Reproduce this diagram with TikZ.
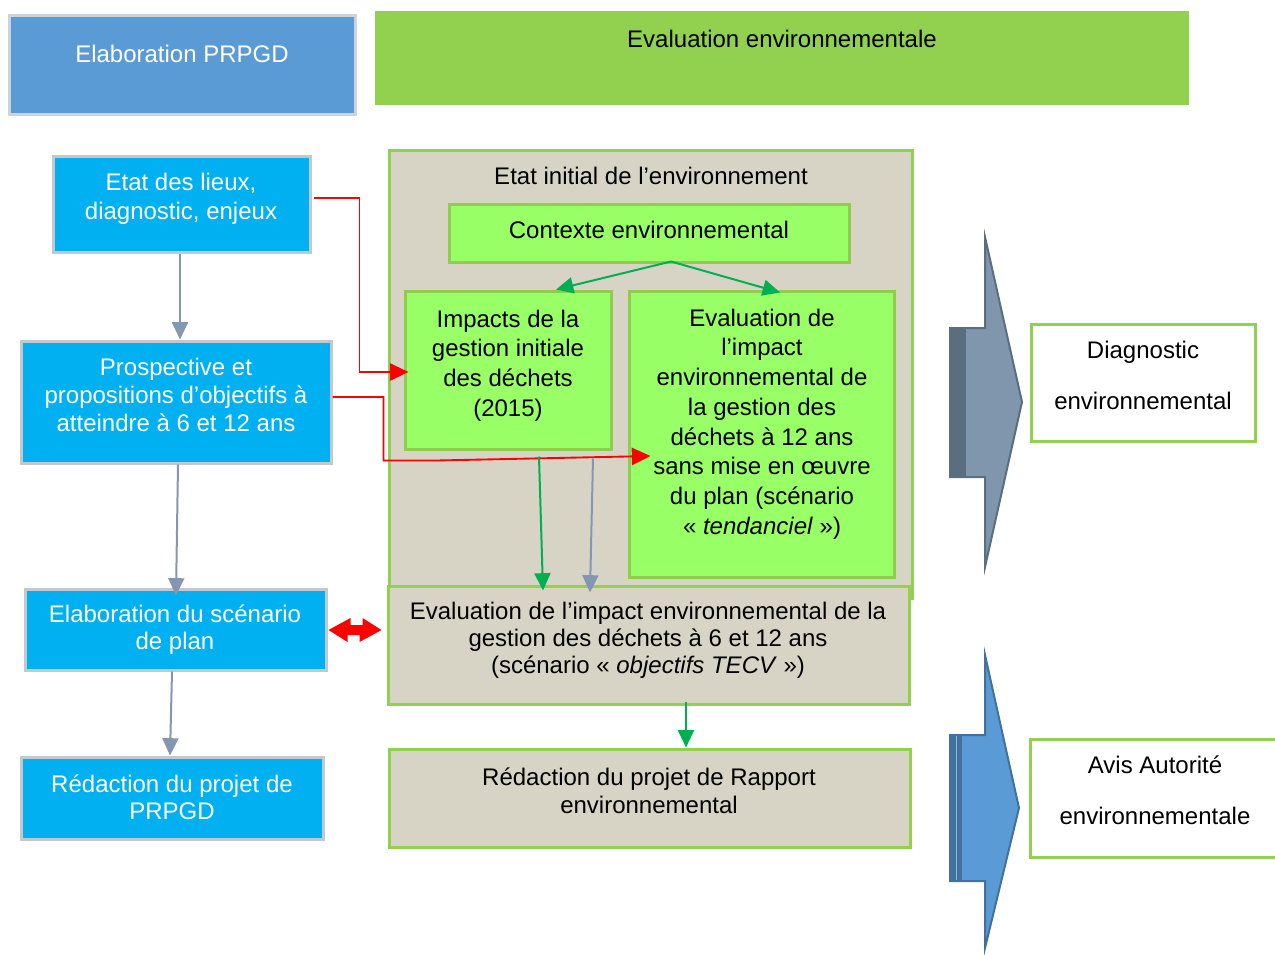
\documentclass[tikz,border=0pt]{standalone}
\usepackage{fontspec}
\setmainfont{Liberation Sans}
\usetikzlibrary{fit,calc,arrows.meta}
\definecolor{hdrblue}{HTML}{5B9BD5}
\definecolor{hdrborder}{HTML}{CDD3DA}
\definecolor{cyanbox}{HTML}{00B0F0}
\definecolor{boxgray}{HTML}{C3C8CE}
\definecolor{hdrgreen}{HTML}{92D050}
\definecolor{sand}{HTML}{D8D4C5}
\definecolor{lgreen}{HTML}{99FF66}
\definecolor{bgreen}{HTML}{92D050}
\definecolor{lgborder}{HTML}{8FCC50}
\definecolor{argreen}{HTML}{00B050}
\definecolor{argray}{HTML}{8497B0}
\definecolor{slate}{HTML}{8096AC}
\definecolor{slatedark}{HTML}{5A6E80}
\definecolor{bluedark}{HTML}{41719C}
\begin{document}
\begin{tikzpicture}[x=0.75pt,y=-0.75pt,
  every node/.style={font=\fontsize{18}{22}\selectfont},
  frame/.style={inner sep=0pt, line width=2.25pt},
  hdrframe/.style={frame, fill=hdrblue, draw=hdrborder},
  greenhdr/.style={frame, fill=hdrgreen, draw=hdrgreen},
  cyanframe/.style={frame, fill=cyanbox, draw=boxgray},
  sandframe/.style={frame, fill=sand, draw=bgreen},
  lgframe/.style={frame, fill=lgreen, draw=lgborder},
  whiteframe/.style={frame, fill=white, draw=bgreen},
  wtxt/.style={text=white, align=center, inner sep=0pt},
  btxt/.style={text=black, align=center, inner sep=0pt},
  grayarr/.style={draw=argray, line width=1.5pt, -{Triangle[length=13pt,width=12pt]}},
  greenarr/.style={draw=argreen, line width=1.5pt, -{Triangle[length=13pt,width=12pt]}},
  redarr/.style={draw=red, line width=1.4pt, -{Triangle[length=14pt,width=13pt]}},
  slatearrow/.style={fill=slate, draw=slatedark, line width=1.5pt, line join=miter},
  bluearrow/.style={fill=hdrblue, draw=bluedark, line width=1.5pt, line join=miter}
]
\useasboundingbox (0,0) rectangle (1275,954);

% header boxes
\node[hdrframe, fit={(9,15) (355,114)}] (hdrL) {};
\node[wtxt] (hdrLT) at (182,54) {Elaboration PRPGD};
\node[greenhdr, fit={(376,12) (1187,103)}] (hdrR) {};
\node[btxt] (hdrRT) at (782,39) {Evaluation environnementale};

% left column
\node[cyanframe, fit={(53,156) (310,252)}] (etat) {};
\node[wtxt] (etatT) at (181,199) {Etat des lieux,\\diagnostic, enjeux};
\node[cyanframe, fit={(21,341) (331,463)}] (prosp) {};
\node[wtxt, font=\fontsize{18}{21}\selectfont] (prospT) at (176,395) {Prospective et\\propositions d’objectifs à\\atteindre à 6 et 12 ans};
\node[cyanframe, fit={(25,589) (326,670)}] (scen) {};
\node[wtxt, font=\fontsize{18}{20.25}\selectfont] (scenT) at (175,630) {Elaboration du scénario\\de plan};
\node[cyanframe, fit={(21,757) (323,839)}] (redacP) {};
\node[wtxt, font=\fontsize{18}{20.25}\selectfont] (redacPT) at (172,797.5) {Rédaction du projet de\\PRPGD};

% middle column
\node[sandframe, fit={(389,150) (912,598)}] (initial) {};
\node[btxt] (initialT) at (651,176) {Etat initial de l’environnement};
\node[lgframe, fit={(449,204) (849,262)}] (ctx) {};
\node[btxt] (ctxT) at (649,230) {Contexte environnemental};
\node[lgframe, fit={(405,291) (611,449)}] (impacts) {};
\node[btxt, font=\fontsize{18}{22.3}\selectfont] (impactsT) at (508,365.5) {Impacts de la\\gestion initiale\\des déchets\\(2015)};
\node[lgframe, fit={(629,291) (894,577)}] (eval) {};
\node[btxt, font=\fontsize{18}{22.3}\selectfont] (evalT) at (762,424) {Evaluation de\\l’impact\\environnemental de\\la gestion des\\déchets à 12 ans\\sans mise en œuvre\\du plan (scénario\\«~\textit{tendanciel}~»)};
\node[sandframe, fit={(388,586) (909,704)}] (evalplan) {};
\node[btxt, font=\fontsize{18}{20.25}\selectfont] (evalplanT) at (648,640.5) {Evaluation de l’impact environnemental de la\\gestion des déchets à 6 et 12 ans\\(scénario «~\textit{objectifs TECV}~»)};
\node[sandframe, fit={(389,749) (910,847)}] (redacR) {};
\node[btxt, font=\fontsize{18}{21}\selectfont] (redacRT) at (649,791) {Rédaction du projet de Rapport\\environnemental};

% right column
\node[whiteframe, fit={(1031,324) (1255,441)}] (diag) {};
\node[btxt, font=\fontsize{18}{38}\selectfont] (diagT) at (1143,375.5) {Diagnostic\\environnemental};
\node[whiteframe, fit={(1030,739) (1295,857)}] (avis) {};
\node[btxt, font=\fontsize{18}{38}\selectfont] (avisT) at (1155,790.5) {Avis Autorité\\environnementale};

% big block arrows
\draw[slatearrow] (950,328) -- (985,328) -- (985,237) -- (1022,402) -- (985,567) -- (985,477) -- (950,477) -- cycle;
\fill[slatedark] (950,328) rectangle (966,477);
\draw[bluearrow] (950,735) -- (985,735) -- (985,655) -- (1019,808) -- (985,948) -- (985,881) -- (950,881) -- cycle;
\fill[bluedark] (950,735) rectangle (962,881);
\draw[hdrblue!70!white, line width=0.6pt] (956,736) -- (956,880);

% left column arrows
\draw[grayarr] (etat.south) ++(-1.5,0) -- ($(prosp.north)+(4,0)$);
\draw[grayarr] (prosp.south) ++(2,0) -- ($(scen.north)+(0.5,8)$);
\draw[grayarr] (scen.south) ++(-3.5,0) -- ($(redacP.north)+(-2,0)$);

% red connectors
\draw[redarr] (etat.east) ++(2,-6) -| ($(impacts.west)+(-44,2)$) -- ($(impacts.west)+(5,2)$);
\draw[redarr] (prosp.east) ++(0,-5) -| ($(impacts.south west)+(-20,10)$) -- ($(impacts.south west)+(33,10)$) -- ($(eval.west)+(23,22)$);

% green connectors from context
\coordinate (ctxsrc) at ($(ctx.south)+(22,-2)$);
\draw[greenarr] (ctxsrc) -- ($(impacts.north)+(48,0)$);
\draw[greenarr] (ctxsrc) -- ($(eval.north)+(18.5,3)$);

% vertical connectors into evalplan
\draw[greenarr] ($(impacts.south)+(31,6)$) -- ($(evalplan.north)+(-105.5,6)$);
\draw[grayarr] ($(impacts.south)+(85,8)$) -- ($(evalplan.north)+(-58.5,8)$);
\draw[greenarr] ($(evalplan.south)+(37.5,-4)$) -- ($(redacR.north)+(36.5,0)$);

% red double arrow between scenario and evalplan
\coordinate (dA) at ($(scen.east)+(1,0.5)$);
\coordinate (dB) at ($(evalplan.west |- dA)+(-5,0)$);
\fill[red] (dA) -- ++(22,-12) -- ++(0,7) -- ++(12,0) -- ++(0,-7) -- (dB) -- ++(-22,12) -- ++(0,-7) -- ++(-12,0) -- ++(0,7) -- cycle;
\end{tikzpicture}
\end{document}
